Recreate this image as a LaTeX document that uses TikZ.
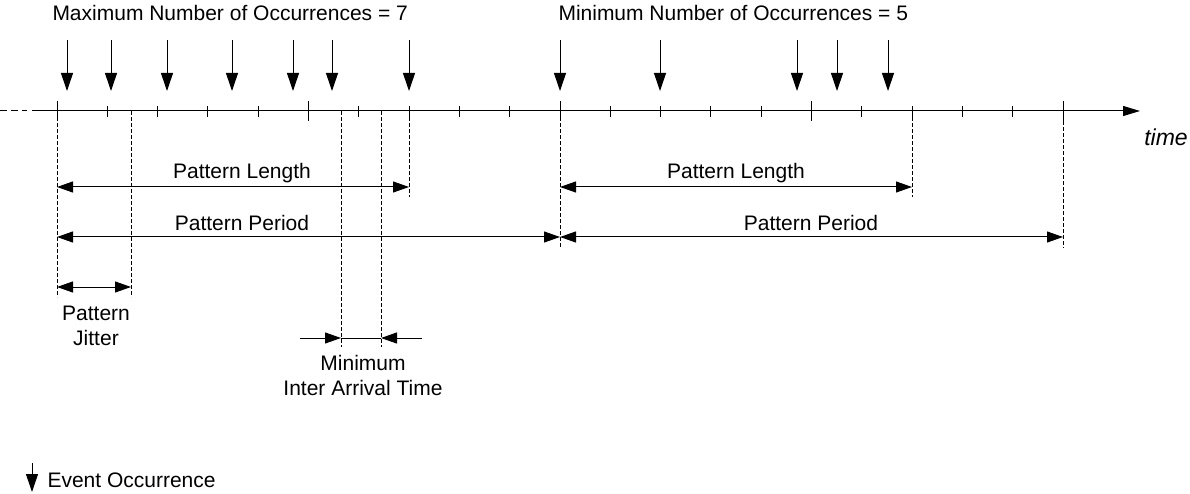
\documentclass[tikz,border=0pt]{standalone}
\usepackage{fontspec}
\setmainfont{Liberation Sans}
\usetikzlibrary{arrows.meta}
\begin{document}
\begin{tikzpicture}[x=1pt,y=-1pt,
  line width=1pt,
  evt/.style={-{Triangle[length=18pt,width=12pt]}},
  dimarr/.style={{Triangle[length=16pt,width=11pt]}-{Triangle[length=16pt,width=11pt]}},
  onearr/.style={-{Triangle[length=16pt,width=11pt]}},
  guide/.style={dash pattern=on 4pt off 2pt},
  lbl/.style={font=\fontsize{21pt}{25pt}\selectfont, inner sep=0pt, align=center},
  ]
\useasboundingbox (0,0) rectangle (1190,494);

% top labels
\node[lbl, anchor=west] (maxocc) at (52,13) {Maximum Number of Occurrences = 7};
\node[lbl, anchor=west] (minocc) at (558,13) {Minimum Number of Occurrences = 5};

% axis
\coordinate (dashL) at (0,111);
\coordinate (dashR) at (27,111);
\coordinate (axL) at (32,111);
\coordinate (axR) at (1140,111);
\draw[dash pattern=on 7pt off 4pt] (dashL) -- (dashR);
\draw[-{Triangle[length=17pt,width=10pt]}] (axL) -- (axR);
\node[font=\fontsize{23pt}{26pt}\selectfont\itshape, inner sep=0pt] (time) at (1166,137) {time};

% ticks
\foreach \i in {0,...,20}{
  \pgfmathsetmacro\tx{57+\i*50.3}
  \pgfmathtruncatemacro\m{mod(\i,5)}
  \ifnum\m=0
    \coordinate (tt\i) at (\tx,101);
    \coordinate (tb\i) at (\tx,121);
  \else
    \coordinate (tt\i) at (\tx,106);
    \coordinate (tb\i) at (\tx,117);
  \fi
  \draw (tt\i) -- (tb\i);
}

% event arrows
\foreach \n/\ex in {1/67,2/111,3/167,4/232,5/293,6/332,7/409,8/560,9/660,10/797,11/837,12/888}{
  \coordinate (et\n) at (\ex,40);
  \coordinate (eb\n) at (\ex,91);
  \draw[evt] (et\n) -- (eb\n);
}

% guide lines
\coordinate (g1a) at (57,111);  \coordinate (g1b) at (57,297);
\coordinate (g2a) at (131,111); \coordinate (g2b) at (131,297);
\coordinate (g3a) at (341,111); \coordinate (g3b) at (341,347);
\coordinate (g4a) at (381,111); \coordinate (g4b) at (381,347);
\coordinate (g5a) at (409,117); \coordinate (g5b) at (409,197);
\coordinate (g6a) at (560,117); \coordinate (g6b) at (560,248);
\coordinate (g7a) at (912,117); \coordinate (g7b) at (912,197);
\coordinate (g8a) at (1063,121); \coordinate (g8b) at (1063,248);
\foreach \g in {1,...,4}{\draw[guide] (g\g a) -- (g\g b);}
\foreach \g in {5,...,8}{\draw[guide] (g\g a) -- (g\g b);}

% Pattern Length
\coordinate (pl1a) at (57,187); \coordinate (pl1b) at (409,187);
\draw[dimarr] (pl1a) -- (pl1b);
\node[lbl] (pl1) at (242,173) {Pattern Length};
\coordinate (pl2a) at (560,187); \coordinate (pl2b) at (912,187);
\draw[dimarr] (pl2a) -- (pl2b);
\node[lbl] (pl2) at (736,173) {Pattern Length};

% Pattern Period
\coordinate (pp1a) at (57,237); \coordinate (pp1b) at (560,237);
\draw[dimarr] (pp1a) -- (pp1b);
\node[lbl] (pp1) at (242,223) {Pattern Period};
\coordinate (pp2a) at (560,237); \coordinate (pp2b) at (1063,237);
\draw[dimarr] (pp2a) -- (pp2b);
\node[lbl] (pp2) at (811,223) {Pattern Period};

% Pattern Jitter
\coordinate (pja) at (57,287); \coordinate (pjb) at (131,287);
\draw[dimarr] (pja) -- (pjb);
\node[lbl, anchor=north] (pj) at (96,306) {Pattern\\Jitter};

% Minimum Inter Arrival Time
\coordinate (mia) at (300,338); \coordinate (mib) at (341,338);
\coordinate (mic) at (381,338); \coordinate (mid) at (422,338);
\draw[onearr] (mia) -- (mib);
\draw (mib) -- (mic);
\draw[onearr] (mid) -- (mic);
\node[lbl, anchor=north] (mit) at (363,355) {Minimum\\Inter Arrival Time};

% legend
\coordinate (lga) at (32,463); \coordinate (lgb) at (32,492);
\draw[evt] (lga) -- (lgb);
\node[lbl, anchor=west] (lg) at (47,480) {Event Occurrence};
\end{tikzpicture}
\end{document}
